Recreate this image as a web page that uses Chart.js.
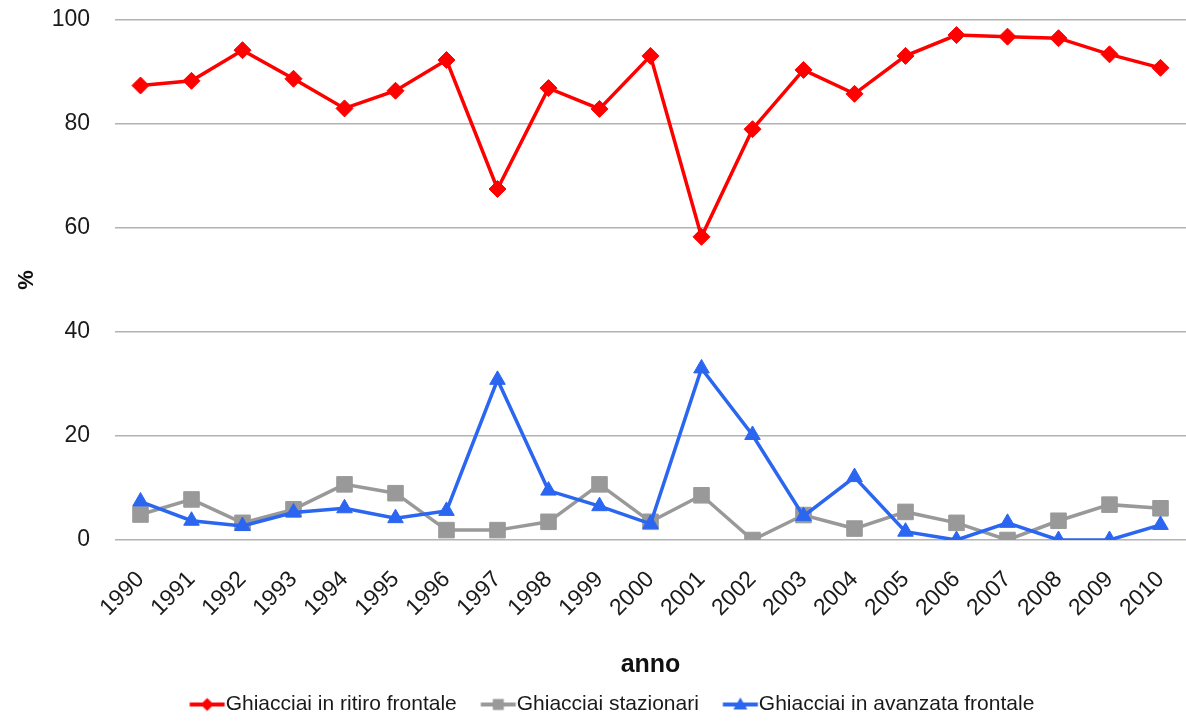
<!DOCTYPE html>
<html>
<head>
<meta charset="utf-8">
<script src="https://cdn.jsdelivr.net/npm/chart.js@4/dist/chart.umd.min.js"></script>
<style>
  html, body { margin: 0; padding: 0; background: #fff; }
  #wrap { width: 1186px; height: 721px; }
</style>
</head>
<body>
<div id="wrap"><canvas id="c" width="1186" height="721"></canvas></div>
<script>
const years = ['1990','1991','1992','1993','1994','1995','1996','1997','1998','1999','2000',
               '2001','2002','2003','2004','2005','2006','2007','2008','2009','2010'];

const ritiro     = [87.4, 88.3, 94.2, 88.7, 83.0, 86.4, 92.3, 67.5, 86.9, 82.9, 93.1,
                    58.3, 79.0, 90.4, 85.8, 93.1, 97.1, 96.8, 96.5, 93.4, 90.8];
const stazionari = [4.9, 7.8, 3.3, 5.9, 10.7, 9.0, 1.9, 1.9, 3.5, 10.7, 3.5,
                    8.6, 0.0, 4.8, 2.2, 5.4, 3.3, 0.0, 3.7, 6.8, 6.1];
const avanzata   = [7.4, 3.7, 2.7, 5.3, 6.1, 4.2, 5.6, 30.8, 9.5, 6.5, 3.1,
                    33.0, 20.2, 4.6, 12.1, 1.6, 0.0, 3.3, 0.0, 0.0, 2.9];

const yTicks = [0, 20, 40, 60, 80, 100];

const RED = '#ff0000';
const GRAY = '#999999';
const BLUE = '#2b66f0';

const FONT = "'Liberation Sans', Arial, sans-serif";

// Legend swatch: a short line with the series marker in the middle.
// The image is centred on the legend box, so the line is placed to end just before the text.
const BOX_W = 39.5;
function swatch(color, shape) {
  const c = document.createElement('canvas');
  const w = 100, h = 20;
  c.width = w; c.height = h;
  const shift = w / 2 - BOX_W / 2;          // box x -> image x
  const x1 = 14 + shift, x2 = 49 + shift;   // line span in box coordinates 14..49
  const g = c.getContext('2d');
  g.strokeStyle = color; g.fillStyle = color; g.lineWidth = 4;
  g.beginPath(); g.moveTo(x1, h / 2); g.lineTo(x2, h / 2); g.stroke();
  const cx = (x1 + x2) / 2, cy = h / 2;
  g.beginPath();
  if (shape === 'diamond') {
    g.moveTo(cx, cy - 6.5); g.lineTo(cx + 6.5, cy); g.lineTo(cx, cy + 6.5); g.lineTo(cx - 6.5, cy);
  } else if (shape === 'square') {
    g.rect(cx - 5.5, cy - 5.5, 11, 11);
  } else {
    g.moveTo(cx, cy - 7); g.lineTo(cx + 7, cy + 5); g.lineTo(cx - 7, cy + 5);
  }
  g.closePath(); g.fill();
  return c;
}

const swatches = [swatch(RED, 'diamond'), swatch(GRAY, 'square'), swatch(BLUE, 'triangle')];

const ds = (label, data, color, style, radius, order) => ({
  label, data, order,
  borderColor: color, backgroundColor: color,
  borderWidth: 3.5, tension: 0,
  pointStyle: style, pointRadius: radius, pointHoverRadius: radius,
  pointBorderWidth: 1, pointBorderColor: color, pointBackgroundColor: color
});

const LEFT_PAD = 24;

new Chart(document.getElementById('c'), {
  type: 'line',
  data: {
    labels: years,
    datasets: [
      ds('Ghiacciai in ritiro frontale', ritiro, RED, 'rectRot', 8.5, 2),
      ds('Ghiacciai stazionari', stazionari, GRAY, 'rect', 11, 1),
      ds('Ghiacciai in avanzata frontale', avanzata, BLUE, 'triangle', 9, 0)
    ]
  },
  options: {
    responsive: false,
    animation: false,
    events: [],
    layout: { autoPadding: false, padding: { top: 20, right: 0, left: LEFT_PAD, bottom: -4 } },
    plugins: {
      tooltip: { enabled: false },
      legend: {
        position: 'bottom',
        labels: {
          usePointStyle: true,
          pointStyleWidth: BOX_W,
          boxHeight: 21,
          padding: 10,
          color: '#1a1a1a',
          font: { family: FONT, size: 21 },
          sort: (a, b) => a.datasetIndex - b.datasetIndex,
          generateLabels(chart) {
            return chart.data.datasets.map((d, i) => ({
              text: d.label,
              datasetIndex: i,
              pointStyle: swatches[i],
              fillStyle: d.borderColor,
              strokeStyle: d.borderColor,
              lineWidth: 0,
              hidden: false,
              fontColor: '#1a1a1a'
            }));
          }
        }
      }
    },
    scales: {
      x: {
        offset: true,
        grid: { display: false, drawTicks: false },
        border: { display: false },
        ticks: {
          autoSkip: false, minRotation: 45, maxRotation: 45, padding: 26,
          color: '#1a1a1a', font: { family: FONT, size: 23 }
        },
        title: {
          display: true, text: 'anno', color: '#111',
          font: { family: FONT, size: 25, weight: 'bold' },
          padding: { top: 4, bottom: 4 }
        },
        afterFit(scale) {
          scale.height = 144;
          scale.paddingLeft = 0;
          scale.paddingRight = 0;
        }
      },
      y: {
        min: 0, max: 100,
        afterBuildTicks(scale) { scale.ticks = yTicks.map(v => ({ value: v })); },
        grid: { color: '#b2b2b2', lineWidth: 1.5, drawTicks: false },
        border: { display: false },
        ticks: {
          padding: 25, color: '#1a1a1a', font: { family: FONT, size: 23 }
        },
        title: {
          display: true, text: '%', color: '#111',
          font: { family: FONT, size: 22, weight: 'bold' },
          padding: { top: 14 - LEFT_PAD, bottom: 0 }
        },
        afterFit(scale) {
          scale.width = 115 - LEFT_PAD;
          scale.paddingTop = 0;
          scale.paddingBottom = 0;
        }
      }
    }
  }
});
</script>
</body>
</html>
